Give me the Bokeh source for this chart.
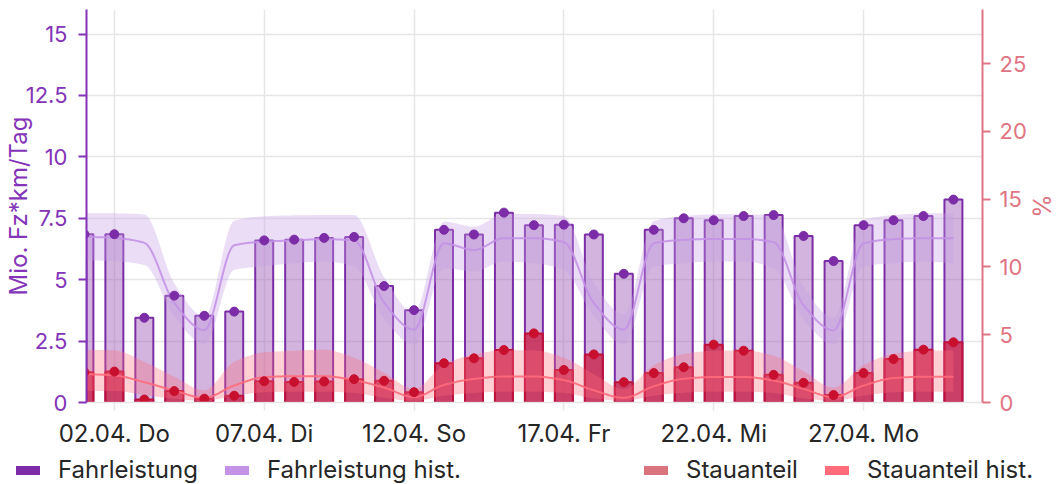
import numpy as np
from bokeh.plotting import figure
from bokeh.models import (Range1d, LinearAxis, FixedTicker, NumeralTickFormatter,
                          Legend, LegendItem, ColumnDataSource)
from bokeh.embed import file_html
from bokeh.resources import INLINE

# ---------------- data ----------------
days = list(range(1, 31))  # 01.04. ... 30.04.
tick_days = [2, 7, 12, 17, 22, 27]
tick_labels = ["02.04. Do", "07.04. Di", "12.04. So", "17.04. Fr", "22.04. Mi", "27.04. Mo"]

fahrleistung = [6.85, 6.85, 3.45, 4.35, 3.53, 3.70, 6.60, 6.63, 6.70, 6.74,
                4.74, 3.76, 7.03, 6.84, 7.73, 7.22, 7.24, 6.84, 5.24, 7.03,
                7.50, 7.42, 7.59, 7.63, 6.78, 5.76, 7.22, 7.42, 7.59, 8.26]
stauanteil = [2.24, 2.28, 0.22, 0.84, 0.28, 0.50, 1.57, 1.52, 1.55, 1.72,
              1.60, 0.76, 2.90, 3.26, 3.87, 5.10, 2.40, 3.55, 1.50, 2.17,
              2.60, 4.27, 3.82, 2.04, 1.45, 0.55, 2.17, 3.21, 3.90, 4.44]

fl_hist = [6.75, 6.70, 6.50, 4.05, 2.95, 6.40, 6.55, 6.60, 6.65, 6.60,
           4.07, 2.97, 6.48, 6.21, 6.69, 6.69, 6.53, 4.05, 2.97, 6.48,
           6.62, 6.66, 6.66, 6.53, 3.95, 2.94, 6.48, 6.65, 6.69, 6.69]
fl_hist_low = [5.80, 5.75, 5.60, 3.50, 2.38, 5.40, 5.55, 5.67, 5.74, 5.54,
               3.40, 2.36, 5.47, 5.34, 5.74, 5.67, 5.40, 3.51, 2.36, 5.54,
               5.67, 5.74, 5.74, 5.47, 3.38, 2.36, 5.54, 5.67, 5.74, 5.67]
fl_hist_high = [7.70, 7.70, 7.65, 4.85, 3.50, 7.40, 7.58, 7.62, 7.63, 7.63,
                5.10, 3.65, 7.36, 7.16, 7.67, 7.67, 7.59, 4.86, 3.59, 7.39,
                7.59, 7.66, 7.66, 7.63, 4.70, 3.46, 7.43, 7.63, 7.70, 7.70]

stau_hist = [2.10, 2.00, 1.50, 0.88, 0.35, 1.25, 1.87, 1.94, 1.94, 1.65,
             1.10, 0.40, 1.30, 1.74, 1.92, 1.92, 1.65, 0.90, 0.35, 1.20,
             1.75, 1.88, 1.88, 1.62, 1.00, 0.40, 1.25, 1.80, 1.90, 1.90]
stau_hist_low = [0.85, 0.85, 0.55, 0.28, 0.12, 0.50, 0.75, 0.80, 0.80, 0.70,
                 0.35, 0.12, 0.50, 0.70, 0.80, 0.80, 0.70, 0.30, 0.12, 0.50,
                 0.72, 0.80, 0.80, 0.70, 0.30, 0.12, 0.50, 0.75, 0.80, 0.80]
stau_hist_high = [3.90, 3.85, 3.00, 1.90, 0.90, 3.00, 3.70, 3.82, 3.90, 3.30,
                  2.20, 1.00, 2.80, 3.55, 3.85, 3.85, 3.30, 2.10, 1.00, 2.75,
                  3.58, 3.82, 3.85, 3.45, 2.30, 1.10, 2.75, 3.60, 3.82, 3.85]

legend_left = ["Fahrleistung", "Fahrleistung hist."]
legend_right = ["Stauanteil", "Stauanteil hist."]

# ---------------- styling ----------------
FONT = "Inter"
C_FL = "#7b2ca6"
C_FL_FILL = "#9b59b6"
C_FL_HIST = "#c492e6"
C_ST = "#c81e45"
C_ST_LEG = "#d9737d"
C_ST_HIST = "#ff6b7a"
C_LEFT = "#8434b8"
C_RIGHT = "#e07482"
GRID = "#e6e6e6"
TXT = "#262626"


def monotone(x, y, n=24):
    """Monotone cubic (Fritsch-Carlson) curve through the given points, for drawing."""
    x = np.asarray(x, float)
    y = np.asarray(y, float)
    h = np.diff(x)
    d = np.diff(y) / h
    m = np.zeros_like(y)
    m[0], m[-1] = d[0], d[-1]
    for i in range(1, len(y) - 1):
        if d[i - 1] * d[i] <= 0:
            m[i] = 0.0
        else:
            w1 = 2 * h[i] + h[i - 1]
            w2 = h[i] + 2 * h[i - 1]
            m[i] = (w1 + w2) / (w1 / d[i - 1] + w2 / d[i])
    xs, ys = [], []
    t = np.linspace(0, 1, n, endpoint=False)
    h00 = 2 * t**3 - 3 * t**2 + 1
    h10 = t**3 - 2 * t**2 + t
    h01 = -2 * t**3 + 3 * t**2
    h11 = t**3 - t**2
    for i in range(len(x) - 1):
        xs.append(x[i] + t * h[i])
        ys.append(h00 * y[i] + h10 * h[i] * m[i] + h01 * y[i + 1] + h11 * h[i] * m[i + 1])
    xs.append([x[-1]])
    ys.append([y[-1]])
    return np.concatenate(xs), np.concatenate(ys)


p = figure(width=1058, height=450, output_backend="svg", toolbar_location=None,
           x_range=Range1d(1.07, 30.97), y_range=Range1d(0, 16),
           min_border_left=86, min_border_right=75, min_border_top=9, min_border_bottom=47,
           title=None)
p.extra_y_ranges = {"pct": Range1d(0, 29)}
p.outline_line_color = None
p.background_fill_color = "white"
p.border_fill_color = "white"

# grids
p.xgrid.ticker = FixedTicker(ticks=tick_days)
p.ygrid.ticker = FixedTicker(ticks=[0, 2.5, 5, 7.5, 10, 12.5, 15])
for g in (p.xgrid, p.ygrid):
    g.grid_line_color = GRID
    g.grid_line_width = 1.5

# x axis
xa = p.xaxis[0]
xa.ticker = FixedTicker(ticks=tick_days)
xa.major_label_overrides = {d: lab for d, lab in zip(tick_days, tick_labels)}
xa.axis_line_color = GRID
xa.axis_line_width = 1.5
xa.major_tick_line_color = GRID
xa.major_tick_line_width = 1.5
xa.major_tick_out = 8
xa.major_tick_in = 0
xa.minor_tick_line_color = None
xa.major_label_text_font = FONT
xa.major_label_text_font_size = "24px"
xa.major_label_text_color = TXT
xa.major_label_standoff = 8

# left axis
ya = p.yaxis[0]
ya.ticker = FixedTicker(ticks=[0, 2.5, 5, 7.5, 10, 12.5, 15])
ya.formatter = NumeralTickFormatter(format="0.[0]")
ya.axis_label = "Mio. Fz*km/Tag"
ya.axis_label_text_font = FONT
ya.axis_label_text_font_size = "24px"
ya.axis_label_text_font_style = "normal"
ya.axis_label_text_color = C_LEFT
ya.axis_label_standoff = -10
ya.axis_line_color = C_LEFT
ya.axis_line_width = 2
ya.major_tick_line_color = C_LEFT
ya.major_tick_line_width = 2
ya.major_tick_out = 8
ya.major_tick_in = 0
ya.minor_tick_line_color = None
ya.major_label_text_font = FONT
ya.major_label_text_font_size = "22px"
ya.major_label_text_color = C_LEFT
ya.major_label_standoff = 11

# right axis
ra = LinearAxis(y_range_name="pct", ticker=FixedTicker(ticks=[0, 5, 10, 15, 20, 25]))
ra.axis_label = "%"
ra.axis_label_text_font = FONT
ra.axis_label_text_font_size = "24px"
ra.axis_label_text_font_style = "normal"
ra.axis_label_text_color = C_RIGHT
ra.axis_label_standoff = -3
ra.axis_line_color = C_RIGHT
ra.axis_line_width = 2
ra.major_tick_line_color = C_RIGHT
ra.major_tick_line_width = 2
ra.major_tick_out = 8
ra.major_tick_in = 0
ra.minor_tick_line_color = None
ra.major_label_text_font = FONT
ra.major_label_text_font_size = "22px"
ra.major_label_text_color = C_RIGHT
ra.major_label_standoff = 9
p.add_layout(ra, "right")

src = ColumnDataSource(dict(day=days, fl=fahrleistung, st=stauanteil))

# bars
p.vbar(x="day", top="fl", width=0.6, bottom=0, source=src,
       fill_color=C_FL_FILL, fill_alpha=0.45, line_color=C_FL, line_width=2)
p.vbar(x="day", top="st", width=0.6, bottom=0, source=src, y_range_name="pct",
       fill_color=C_ST, fill_alpha=0.78, line_color="#c0103a", line_width=2)

# historic bands + lines
bx, blo = monotone(days, fl_hist_low)
_, bhi = monotone(days, fl_hist_high)
lx, ly = monotone(days, fl_hist)
p.varea(x=bx, y1=blo, y2=bhi, fill_color="#c79ee6", fill_alpha=0.35)
p.line(lx, ly, line_color=C_FL_HIST, line_width=2, line_alpha=0.9)

sx, slo = monotone(days, stau_hist_low)
_, shi = monotone(days, stau_hist_high)
slx, sly = monotone(days, stau_hist)
p.varea(x=sx, y1=slo, y2=shi, fill_color=C_ST_HIST, fill_alpha=0.32, y_range_name="pct")
p.line(slx, sly, line_color=C_ST_HIST, line_width=2, line_alpha=0.9, y_range_name="pct")

# dots
p.scatter(x="day", y="fl", source=src, size=9, fill_color=C_FL, line_color=C_FL)
p.scatter(x="day", y="st", source=src, size=9, fill_color="#c8102e", line_color="#c8102e",
          y_range_name="pct")

# ---------------- legend strip (separate root, glyph-only renderers) ----------------
lf = figure(width=1058, height=34, output_backend="svg", toolbar_location=None,
            x_axis_type=None, y_axis_type=None, x_range=Range1d(0, 1), y_range=Range1d(0, 1),
            min_border=0, min_border_left=0, min_border_right=0, min_border_top=0,
            min_border_bottom=0, title=None)
lf.outline_line_color = None
lf.background_fill_color = "white"
lf.border_fill_color = "white"

nan = [float("nan")]
leg_fl = lf.line(nan, nan, line_color=C_FL, line_width=9, line_cap="round")
leg_flh = lf.line(nan, nan, line_color=C_FL_HIST, line_width=9, line_cap="round")
leg_st = lf.line(nan, nan, line_color=C_ST_LEG, line_width=9, line_cap="round")
leg_sth = lf.line(nan, nan, line_color=C_ST_HIST, line_width=9, line_cap="round")


def make_legend(items, loc):
    return Legend(items=items, location=loc, orientation="horizontal",
                  label_text_font=FONT, label_text_font_size="24px", label_text_color=TXT,
                  glyph_width=24, glyph_height=26, label_standoff=18, spacing=27,
                  padding=0, margin=0, border_line_alpha=0, background_fill_alpha=0)


lg1 = make_legend([LegendItem(label=legend_left[0], renderers=[leg_fl]),
                   LegendItem(label=legend_left[1], renderers=[leg_flh])], (16, 0))
lg2 = make_legend([LegendItem(label=legend_right[0], renderers=[leg_st]),
                   LegendItem(label=legend_right[1], renderers=[leg_sth])], (644, 0))
lf.add_layout(lg1, "center")
lf.add_layout(lg2, "center")

open("out.html", "w").write(file_html([p, lf], INLINE))
